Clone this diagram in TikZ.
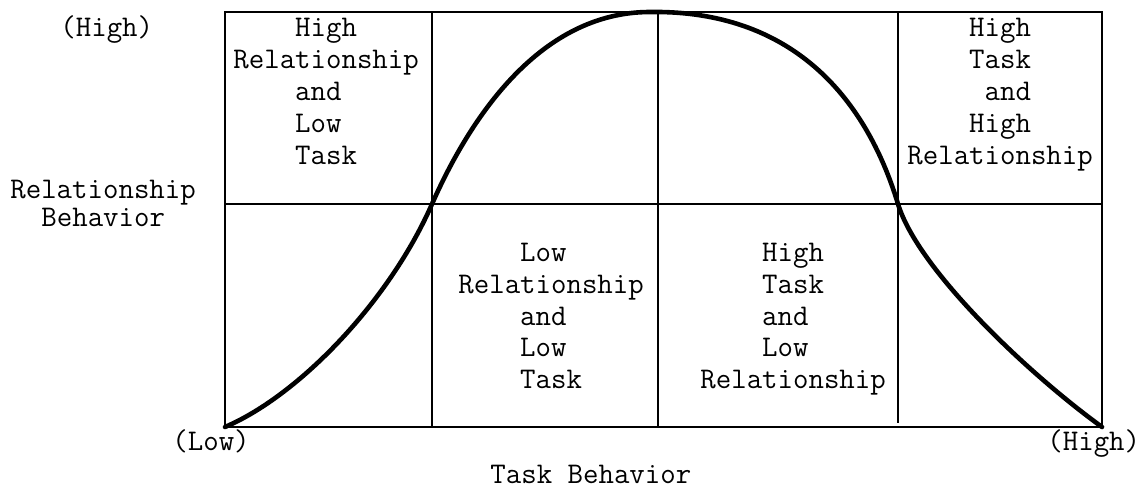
\documentclass[tikz,border=0pt]{standalone}
\begin{document}
\begin{tikzpicture}[x=0.5bp,y=-0.5bp,
  frame/.style={line width=1.3bp},
  curve/.style={line width=2.3bp, line join=round, line cap=round},
  lbl/.style={font=\ttfamily\fontsize{15bp}{16bp}\selectfont, inner sep=0pt, anchor=base west}]
\useasboundingbox (0,0) rectangle (1147,487);

% grid of the chart
\coordinate (nw) at (225,12);
\coordinate (ne) at (1102,12);
\coordinate (sw) at (225,427);
\coordinate (se) at (1102,427);
\coordinate (ml) at (225,204);
\coordinate (mr) at (1102,204);
\coordinate (v1t) at (432,12);
\coordinate (v1b) at (432,427);
\coordinate (v2t) at (658,12);
\coordinate (v2b) at (658,427);
\coordinate (v3t) at (898,12);
\coordinate (v3b) at (898,423);

\draw[frame] (nw) rectangle (se);
\draw[frame] (ml) -- (mr);
\draw[frame] (v1t) -- (v1b);
\draw[frame] (v2t) -- (v2b);
\draw[frame] (v3t) -- (v3b);

% bell-shaped curve through the two crossings and the peak
\coordinate (cl) at (432,204);
\coordinate (peak) at (650,12);
\coordinate (cr) at (898,204);
\draw[curve] (sw) .. controls (300,395) and (390,300) .. (cl)
                  .. controls (470,118) and (540,12) .. (peak)
                  .. controls (790,10) and (865,95) .. (cr)
                  .. controls (918,270) and (1030,375) .. (se);

% axis labels
\node[lbl] (yhigh) at (60,37) {(High)};
\node[lbl] (yl1) at (10,199) {Relationship};
\node[lbl] (yl2) at (41,227) {Behavior};
\node[lbl] (xlow) at (172,450) {(Low)};
\node[lbl] (xhigh) at (1047,450) {(High)};
\node[lbl] (xlab) at (490,483) {Task Behavior};

% quadrant texts
\foreach \t [count=\i] in {{\hphantom{Rela}High},Relationship,{\hphantom{Rela}and},{\hphantom{Rela}Low},{\hphantom{Rela}Task}}
  \node[lbl] (q1-\i) at (233,{37+32*(\i-1)}) {\t};
\foreach \t [count=\i] in {{\hphantom{Rela}High},{\hphantom{Rela}Task},{\hphantom{Relat}and},{\hphantom{Rela}High},Relationship}
  \node[lbl] (q2-\i) at (907,{37+32*(\i-1)}) {\t};
\foreach \t [count=\i] in {{\hphantom{Rela}Low},Relationship,{\hphantom{Rela}and},{\hphantom{Rela}Low},{\hphantom{Rela}Task}}
  \node[lbl] (q3-\i) at (458,{262+31.5*(\i-1)}) {\t};
\foreach \t [count=\i] in {{\hphantom{Rela}High},{\hphantom{Rela}Task},{\hphantom{Rela}and},{\hphantom{Rela}Low},Relationship}
  \node[lbl] (q4-\i) at (700,{262+31.5*(\i-1)}) {\t};
\end{tikzpicture}
\end{document}
